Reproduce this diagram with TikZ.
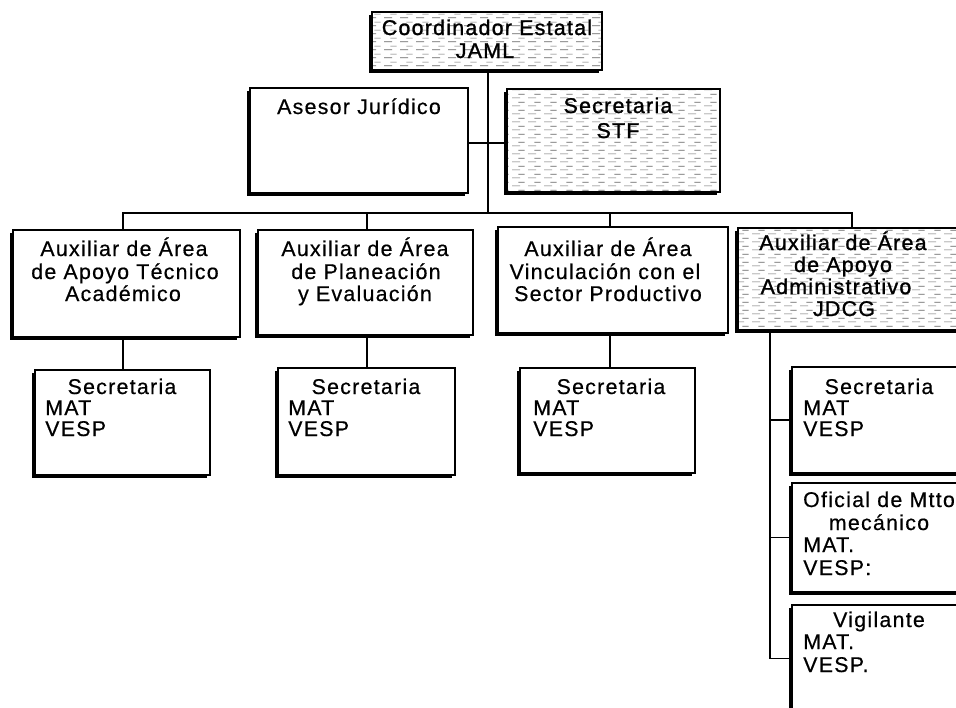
\documentclass[tikz,border=0pt]{standalone}
\usepackage{fontspec}
\setmainfont{Liberation Sans}[LetterSpace=6, FakeBold=0.5]
\newfontfamily\heavyface{Liberation Sans}[LetterSpace=6, FakeBold=1.3]
\usetikzlibrary{fit,shadows,patterns.meta}

% broken horizontal strokes used as the grey screen of the highlighted boxes
\pgfdeclarepattern{
  name=dashrows, type=uncolored,
  bottom left={\pgfpoint{0pt}{0pt}}, top right={\pgfpoint{12pt}{6pt}},
  tile size={\pgfpoint{12pt}{6pt}},
  code={
    \pgfsetlinewidth{0.5pt}
    \pgfpathmoveto{\pgfpoint{0pt}{1pt}}\pgfpathlineto{\pgfpoint{6.5pt}{1pt}}
    \pgfpathmoveto{\pgfpoint{5pt}{4pt}}\pgfpathlineto{\pgfpoint{10pt}{4pt}}
    \pgfusepath{stroke}
  }
}

\begin{document}
\begin{tikzpicture}[x=0.75pt, y=-0.75pt,
  box/.style={draw, line width=1.1pt, fill=white, inner sep=0pt, rectangle,
    general shadow={fill=black, shadow xshift=-2.4pt, shadow yshift=-2.4pt}},
  shaded/.style={box, preaction={fill=white}, pattern=dashrows, pattern color=black!60},
  conn/.style={line width=1.1pt},
  t/.style={anchor=base, inner sep=0pt, font=\fontsize{16}{16}\selectfont},
  tl/.style={t, anchor=base west},
  th/.style={t, font=\fontsize{16}{16}\selectfont\heavyface}]

\useasboundingbox (0,0) rectangle (956,707);
\clip (0,0) rectangle (956,707);

% ---- boxes ----
\node[shaded, fit={(372,12) (602,70)}]  (coord) {};
\node[box,    fit={(250,88) (468,193)}] (ases)  {};
\node[shaded, fit={(507,89) (720,192)}] (stf)   {};

\node[box,    fit={(13,230) (240,337)}]  (a1) {};
\node[box,    fit={(258,230) (473,335)}] (a2) {};
\node[box,    fit={(498,227) (728,333)}] (a3) {};
\node[shaded, fit={(738,228) (962,330)}] (a4) {};

\node[box, fit={(35,370) (210,475)}]  (s1) {};
\node[box, fit={(278,368) (455,475)}] (s2) {};
\node[box, fit={(520,368) (695,473)}] (s3) {};

\node[box, fit={(792,367) (966,473)}] (r1) {};
\node[box, fit={(792,483) (966,592)}] (r2) {};
\node[box, fit={(792,605) (966,712)}] (r3) {};

% ---- connectors ----
\coordinate (trunk) at (488,213);
\coordinate (side)  at (488,143);
\coordinate (busL)  at (123,213);
\coordinate (busR)  at (852,213);
\coordinate (j2)    at (367,213);
\coordinate (j3)    at (610,213);
\coordinate (sp)    at (770,330);

\draw[conn] (coord.south -| trunk) -- (trunk);
\draw[conn] (ases.east |- side) -- (stf.west |- side);
\draw[conn] (a1.north -| busL) -- (busL) -- (busR) -- (a4.north -| busR);
\draw[conn] (j2) -- (a2.north -| j2);
\draw[conn] (j3) -- (a3.north -| j3);
\draw[conn] (a1.south -| busL) -- (s1.north -| busL);
\draw[conn] (a2.south -| j2) -- (s2.north -| j2);
\draw[conn] (a3.south -| j3) -- (s3.north -| j3);
\draw[conn] (a4.south -| sp) -- (sp |- r3.west);
\draw[conn] (sp |- r1.west) -- (r1.west);
\draw[conn] (sp |- r2.west) -- (r2.west);
\draw[conn] (sp |- r3.west) -- (r3.west);

% ---- texts ----
\node[th] (coord1) at (487,35) {Coordinador Estatal};
\node[th] (coord2) at (485,58) {JAML};
\node[t]  (ases1)  at (359,114) {Asesor Jurídico};
\node[th] (stf1)   at (618,113) {Secretaria};
\node[th] (stf2)   at (618,138) {STF};

\node[t] (a1l1) at (124,256) {Auxiliar de Área};
\node[t] (a1l2) at (125,279) {de Apoyo Técnico};
\node[t] (a1l3) at (123,301) {Académico};

\node[t] (a2l1) at (365,256) {Auxiliar de Área};
\node[t] (a2l2) at (366,279) {de Planeación};
\node[t] (a2l3) at (365,301) {y Evaluación};

\node[t] (a3l1) at (608,256) {Auxiliar de Área};
\node[t] (a3l2) at (605,279) {Vinculación con el};
\node[t] (a3l3) at (608,301) {Sector Productivo};

\node[th] (a4l1) at (843,250) {Auxiliar de Área};
\node[th] (a4l2) at (843,272) {de Apoyo};
\node[th] (a4l3) at (836,294) {Administrativo};
\node[th] (a4l4) at (844,316) {JDCG};

\node[t]  (s1l1) at (122,394) {Secretaria};
\node[tl] (s1l2) at (45,415)  {MAT};
\node[tl] (s1l3) at (45,436)  {VESP};

\node[t]  (s2l1) at (366,394) {Secretaria};
\node[tl] (s2l2) at (288,415) {MAT};
\node[tl] (s2l3) at (288,436) {VESP};

\node[t]  (s3l1) at (611,394) {Secretaria};
\node[tl] (s3l2) at (533,415) {MAT};
\node[tl] (s3l3) at (533,436) {VESP};

\node[t]  (r1l1) at (879,394) {Secretaria};
\node[tl] (r1l2) at (803,415) {MAT};
\node[tl] (r1l3) at (803,436) {VESP};

\node[t]  (r2l1) at (879,507) {Oficial de Mtto};
\node[t]  (r2l2) at (879,530) {mecánico};
\node[tl] (r2l3) at (803,552) {MAT.};
\node[tl] (r2l4) at (803,575) {VESP:};

\node[t]  (r3l1) at (879,627) {Vigilante};
\node[tl] (r3l2) at (803,649) {MAT.};
\node[tl] (r3l3) at (803,672) {VESP.};
\end{tikzpicture}
\end{document}
